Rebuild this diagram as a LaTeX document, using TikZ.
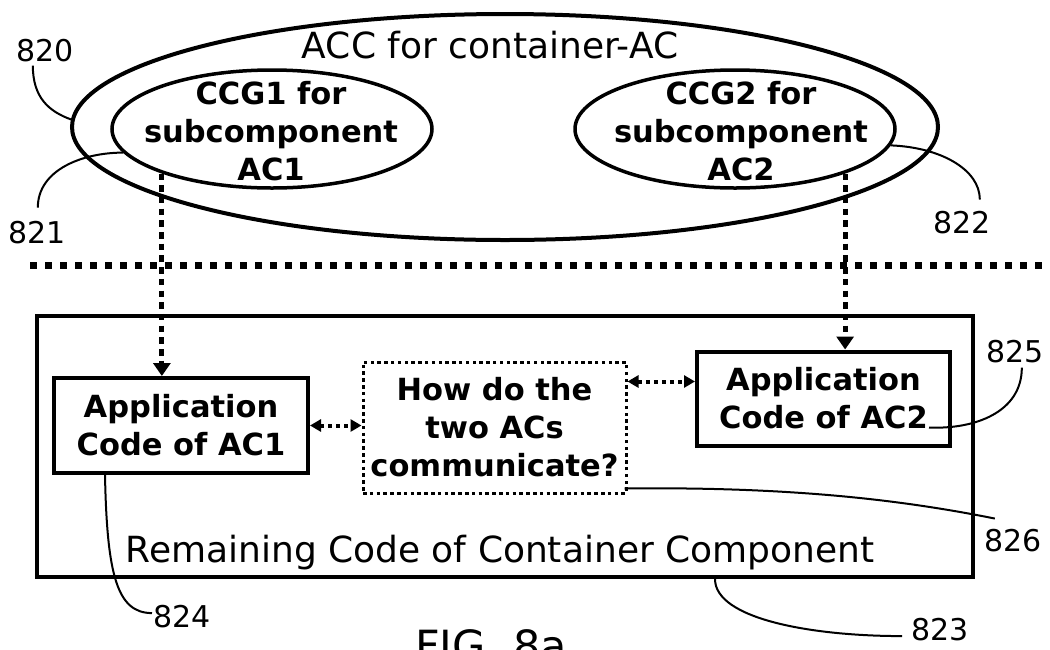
\documentclass[tikz,border=0pt]{standalone}
\usepackage{fontspec}
\setmainfont{DejaVu Sans}
\usetikzlibrary{shapes.geometric, arrows.meta, positioning, calc}

\newcommand{\boldtxt}{\fontsize{30.5}{38}\selectfont\bfseries}
\newcommand{\plaintxt}{\fontsize{36}{43}\selectfont}

\tikzset{
  oval/.style={draw, ellipse, line width=3.5pt, inner sep=0pt},
  ovaltxt/.style={font=\boldtxt, align=center, inner sep=0pt},
  codebox/.style={draw, rectangle, line width=4pt, align=center, inner sep=0pt, font=\boldtxt},
  reftxt/.style={inner sep=1pt, font=\fontsize{30}{36}\selectfont},
  leader/.style={line width=2pt},
  flow/.style={line width=5pt, dash pattern=on 6.5pt off 5.2pt, -{Triangle[width=17pt,length=13pt]}},
  talk/.style={line width=4pt, dash pattern=on 4pt off 4pt, {Triangle[width=12pt,length=11pt]}-{Triangle[width=12pt,length=11pt]}},
}

\begin{document}
\begin{tikzpicture}[x=1pt, y=-1pt]
\useasboundingbox (0,0) rectangle (1050,649);

% ACC with its two CCGs (top)
\node[oval, line width=4pt, minimum width=866pt, minimum height=226pt] (acc) at (505,127) {};
\node[anchor=base, font=\plaintxt, inner sep=0pt] (acctitle) at (490,58) {ACC for container-AC};
\node[oval, minimum width=320pt, minimum height=118pt] (ccg1) at (272,129) {};
\node[ovaltxt] (ccg1txt) at (271,131) {CCG1 for\\subcomponent\\AC1};
\node[oval, minimum width=320pt, minimum height=118pt] (ccg2) at (735,129) {};
\node[ovaltxt] (ccg2txt) at (741,131) {CCG2 for\\subcomponent\\AC2};

% Separator
\coordinate (sepl) at (30,265);
\coordinate (sepr) at (1050,265);
\draw[line width=7pt, dash pattern=on 7pt off 8pt] (sepl) -- (sepr);

% Container component (bottom)
\node[draw, line width=4pt, minimum width=936pt, minimum height=261pt, inner sep=0pt] (rcc) at (505,446.5) {};
\node[anchor=base, font=\plaintxt, inner sep=0pt] (rcctxt) at (500,562) {Remaining Code of Container Component};
\node[codebox, minimum width=254pt, minimum height=95pt] (app1) at (181,425.5) {Application\\Code of AC1};
\node[codebox, line width=3pt, dash pattern=on 3.5pt off 3.3pt, minimum width=263pt, minimum height=131pt] (mid) at (494.5,427.5) {How do the\\two ACs\\communicate?};
\node[codebox, minimum width=253pt, minimum height=94pt] (app2) at (823.5,398.5) {Application\\Code of AC2};

% Arrows
\draw[flow] (ccg1.202) -- (ccg1.202 |- app1.north);
\draw[flow] (ccg2.338) -- (ccg2.338 |- app2.north);
\draw[talk] (app1.east) -- (app1.east -| mid.west);
\coordinate (talk2) at ([yshift=17pt]app2.west);
\draw[talk] (talk2 -| mid.east) -- (talk2);

% Reference numerals
\node[reftxt, anchor=base west] (l820) at (15,61) {820};
\node[reftxt, anchor=base west] (l821) at (7,243) {821};
\node[reftxt, anchor=base west] (l822) at (932,233) {822};
\node[reftxt, anchor=base west] (l825) at (985,362) {825};
\node[reftxt, anchor=base west] (l826) at (983,551) {826};
\node[reftxt, anchor=base west] (l824) at (152,627) {824};
\node[reftxt, anchor=base west] (l823) at (910,640) {823};
\node[anchor=base west, font=\fontsize{43}{50}\selectfont, inner sep=0pt] (fig) at (415,661) {FIG. 8a};

\draw[leader] ([xshift=-12pt,yshift=-3pt]l820.south) .. controls +(0,32) and +(-22,-8) .. (acc.179);
\draw[leader] ([xshift=1pt,yshift=12pt]l821.north) .. controls +(0,-38) and +(-40,0) .. (ccg1.189);
\draw[leader] (ccg2.354) .. controls +(50,2) and +(0,-30) .. ([xshift=18pt,yshift=10pt]l822.north);
\draw[leader] ([xshift=7pt,yshift=-4pt]l825.south) .. controls +(0,45) and +(45,2) .. ([shift={(-23pt,20pt)}]app2.south east);
\draw[leader] ([shift={(-3pt,6pt)}]mid.south east) .. controls +(170,-2) and +(-90,-18) .. ([xshift=-18pt,yshift=9pt]l826.north);
\draw[leader] ([xshift=53pt]app1.south west) .. controls +(2,100) and +(-35,0) .. ([yshift=3pt]l824.west);
\draw[leader] ([xshift=210pt]rcc.south) .. controls +(0,40) and +(-90,0) .. ([xshift=-8pt,yshift=-7pt]l823.west);
\end{tikzpicture}
\end{document}
